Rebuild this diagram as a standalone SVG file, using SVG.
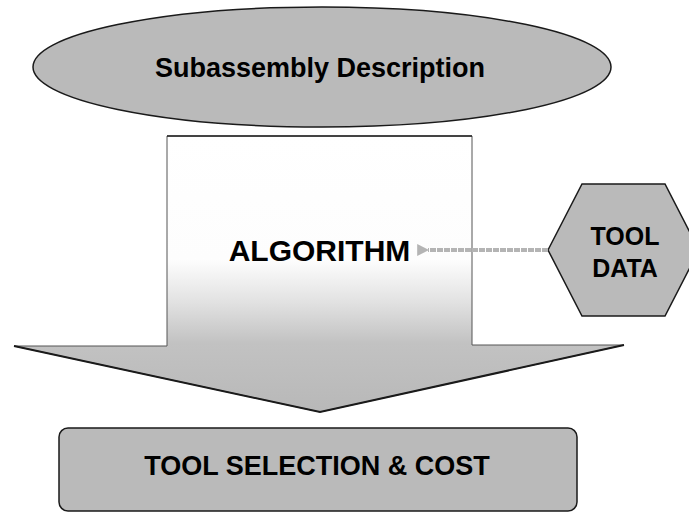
<svg xmlns="http://www.w3.org/2000/svg" width="689" height="518" viewBox="0 0 689 518">
<defs>
<linearGradient id="bodyGrad" gradientUnits="userSpaceOnUse" x1="0" y1="136" x2="0" y2="412">
<stop offset="0" stop-color="#ffffff"/>
<stop offset="0.45" stop-color="#fdfdfd"/>
<stop offset="0.6" stop-color="#e2e2e2"/>
<stop offset="0.75" stop-color="#c2c2c2"/>
<stop offset="1" stop-color="#b8b8b8"/>
</linearGradient>
<marker id="arrowHead" viewBox="0 0 10 10" refX="1" refY="5" markerWidth="3" markerHeight="3" orient="auto-start-reverse">
<path d="M0,5 L10,0 L10,10 Z" fill="#b4b4b4"/>
</marker>
</defs>
<style>
.shape{fill:#bababa;stroke:#1a1a1a;stroke-width:1.5}
.lbl{font-family:"Liberation Sans",Arial,sans-serif;font-weight:bold;fill:#000;text-anchor:middle}
</style>
<rect width="689" height="518" fill="#ffffff"/>
<g id="subassembly">
<ellipse class="shape" cx="322" cy="67" rx="289" ry="60"/>
<text class="lbl" x="320" y="77" font-size="27">Subassembly Description</text>
</g>
<g id="algorithm">
<path d="M167,136 H472 V345 H624 L320,412 L14,346 H167 Z" fill="url(#bodyGrad)" stroke="#555" stroke-width="1"/>
<path d="M14,346 L320,412 L624,345" fill="none" stroke="#1a1a1a" stroke-width="2"/>
<line x1="167" y1="136" x2="472" y2="136" stroke="#222" stroke-width="1.5"/>
<text class="lbl" x="319.5" y="261" font-size="30">ALGORITHM</text>
</g>
<g id="tooldata">
<polygon class="shape" points="548,250 582,184 665,184 699,250 665,316 582,316"/>
<text class="lbl" x="625" y="245" font-size="25">TOOL</text>
<text class="lbl" x="625" y="277" font-size="25">DATA</text>
</g>
<g id="toolselection">
<rect class="shape" x="59" y="428" width="518" height="83" rx="9" ry="9"/>
<text class="lbl" x="317" y="475" font-size="27">TOOL SELECTION &amp; COST</text>
</g>
<g id="connectors">
<line x1="548" y1="250" x2="428" y2="250" stroke="#b4b4b4" stroke-width="4" stroke-dasharray="6 1" marker-end="url(#arrowHead)"/>
</g>
</svg>
